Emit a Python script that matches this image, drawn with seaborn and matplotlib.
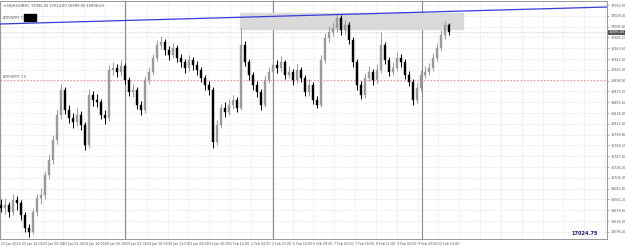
import matplotlib
matplotlib.use("Agg")
import matplotlib.pyplot as plt
import matplotlib.transforms as mtransforms
import numpy as np
import pandas as pd
import seaborn as sns

# ---------------- data ----------------
closes = [16644, 16650, 16636, 16660, 16654, 16630, 16604, 16596, 16636, 16664,
          16670, 16710, 16740, 16780, 16830, 16880, 16840, 16824, 16816, 16830,
          16810, 16770, 16870, 16860, 16856, 16830, 16824, 16920, 16924, 16916,
          16928, 16900, 16876, 16880, 16850, 16840, 16900, 16916, 16944, 16970,
          16976, 16960, 16950, 16964, 16944, 16936, 16924, 16940, 16930, 16920,
          16904, 16890, 16880, 16776, 16810, 16844, 16836, 16850, 16860, 16844,
          16970, 16936, 16910, 16890, 16876, 16850, 16900, 16916, 16930, 16924,
          16936, 16910, 16916, 16900, 16920, 16904, 16876, 16890, 16860, 16850,
          16940, 16984, 16996, 17004, 17024, 17000, 17010, 16980, 16936, 16890,
          16870, 16904, 16916, 16900, 16920, 16970, 16940, 16916, 16924, 16944,
          16936, 16910, 16896, 16860, 16884, 16910, 16916, 16924, 16944, 16964,
          16990, 17010, 16996]
highs = [16662, 16664, 16656, 16672, 16668, 16660, 16636, 16612, 16644, 16672,
         16684, 16718, 16752, 16790, 16842, 16892, 16886, 16850, 16834, 16844,
         16838, 16816, 16882, 16878, 16872, 16862, 16840, 16930, 16936, 16932,
         16940, 16934, 16906, 16892, 16886, 16858, 16908, 16926, 16952, 16980,
         16988, 16982, 16968, 16974, 16970, 16952, 16942, 16950, 16946, 16938,
         16926, 16910, 16898, 16886, 16820, 16852, 16856, 16862, 16870, 16866,
         17004, 16978, 16942, 16916, 16898, 16882, 16910, 16926, 16942, 16940,
         16948, 16940, 16928, 16922, 16932, 16926, 16910, 16902, 16896, 16868,
         16950, 16994, 17008, 17016, 17034, 17030, 17020, 17016, 16986, 16942,
         16898, 16914, 16928, 16922, 16932, 16996, 16976, 16946, 16936, 16956,
         16952, 16942, 16918, 16902, 16894, 16920, 16928, 16934, 16954, 16974,
         17000, 17018, 17014]
lows = [16636, 16632, 16626, 16630, 16640, 16620, 16596, 16586, 16592, 16628,
        16652, 16662, 16702, 16732, 16772, 16822, 16832, 16814, 16804, 16808,
        16800, 16760, 16764, 16848, 16846, 16822, 16812, 16818, 16910, 16906,
        16908, 16892, 16868, 16866, 16842, 16830, 16834, 16892, 16910, 16938,
        16962, 16950, 16940, 16944, 16936, 16926, 16914, 16918, 16920, 16910,
        16896, 16880, 16870, 16764, 16770, 16804, 16826, 16830, 16842, 16836,
        16840, 16928, 16900, 16880, 16866, 16840, 16846, 16894, 16910, 16914,
        16918, 16902, 16904, 16890, 16894, 16896, 16868, 16868, 16852, 16844,
        16846, 16934, 16976, 16988, 16996, 16990, 16992, 16972, 16926, 16880,
        16862, 16864, 16898, 16890, 16894, 16914, 16932, 16908, 16910, 16918,
        16926, 16902, 16888, 16850, 16854, 16878, 16904, 16910, 16918, 16938,
        16958, 16982, 16990]
first_open = 16650

x_labels = ["22 Jan 2024", "22 Jan 14:00", "23 Jan 06:00", "23 Jan 22:00",
            "24 Jan 14:00", "26 Jan 06:00", "29 Jan 02:00", "29 Jan 18:00",
            "30 Jan 11:00", "31 Jan 04:00", "31 Jan 20:00", "1 Feb 12:00",
            "2 Feb 04:00", "2 Feb 21:00", "5 Feb 16:00", "6 Feb 09:00",
            "7 Feb 02:00", "7 Feb 18:00", "8 Feb 11:00", "9 Feb 04:00",
            "9 Feb 20:00", "12 Feb 14:00"]
y_ticks = [17050.0 - 21.6 * k for k in range(22)]

box_prices = [17002, 17034]          # grey zone
box_bars = [59.75, 115.5]
trend_bars = [-0.25, 151.5]          # trendline anchors
trend_prices = [17012, 17046]
support_price = 16900
week_breaks = [31.0, 68.0, 105.25]
current_price = 16996

header = "\u25be NQH24,M30  17005.25 17014.00 16990.00 16996.00"
left_tag = "ATR/SPRT 7.5"
corner_val = "17024.75"

# ---------------- build frame ----------------
opens = [first_open] + closes[:-1]
df = pd.DataFrame({"bar": np.arange(len(closes)), "open": opens,
                   "high": highs, "low": lows, "close": closes})
df["up"] = df["close"] >= df["open"]

sns.set_theme(style="white")
plt.rcParams["font.family"] = ["DejaVu Sans"]

W, H = 625, 249
fig = plt.figure(figsize=(W / 100, H / 100), dpi=100)
ax = fig.add_axes([0, 10 / H, 607 / W, 238 / H])
ax.set_xlim(-0.25, 151.5)
ax.set_ylim(16582, 17058)

# grid
step = 5.2083
for k in range(30):
    ax.axvline(k * step, color="#d4d4d4", lw=0.5, ls=(0, (1, 1.5)), zorder=0)
for p in y_ticks:
    ax.axhline(p, color="#d4d4d4", lw=0.5, ls=(0, (1, 1.5)), zorder=0)
for wb in week_breaks:
    ax.axvline(wb, color="#8a8a8a", lw=0.8, zorder=0.5)

# grey zone
ax.fill_between(box_bars, box_prices[0], box_prices[1], color="#d9d9d9", zorder=1)

# support line
ax.axhline(support_price, color="#f08080", lw=0.6, ls=(0, (2, 2)), zorder=1)
ax.axhline(current_price, color="#c0c0c0", lw=0.5, ls=(0, (2, 2)), zorder=1)

# candles
up_col, dn_col = "#9a9a9a", "#000000"
cols = np.where(df["up"], up_col, dn_col)
ax.vlines(df["bar"], df["low"], df["high"], colors=cols, lw=0.7, zorder=3)
body_lo = np.minimum(df["open"], df["close"])
body_h = np.maximum(np.abs(df["close"] - df["open"]), 1.0)
ax.bar(df["bar"], body_h, bottom=body_lo, width=0.65, color=cols,
       edgecolor=cols, linewidth=0.3, zorder=4)

# trendline
sns.lineplot(x=trend_bars, y=trend_prices, ax=ax, color="#3a3ad8", lw=0.9,
             zorder=5, legend=False)

# axes styling
ax.yaxis.tick_right()
ax.set_yticks(y_ticks)
ax.set_yticklabels([f"{p:.2f}" for p in y_ticks], fontsize=2.4, color="#555555")
ax.set_xticks([k * step for k in range(len(x_labels))])
ax.set_xticklabels(x_labels, fontsize=2.3, color="#555555", ha="left")
ax.tick_params(axis="both", length=1.5, width=0.4, pad=0.8, colors="#777777",
               labelcolor="#555555")
for s in ax.spines.values():
    s.set_color("#888888")
    s.set_linewidth(0.6)
ax.set_xlabel("")
ax.set_ylabel("")

# texts
blend = mtransforms.blended_transform_factory(ax.transAxes, ax.transData)
ax.text(0.006, 0.988, header, transform=ax.transAxes, fontsize=2.6,
        color="#555555", va="top", ha="left")
ax.text(0.005, 17025, left_tag, transform=blend, fontsize=2.5,
        color="#555555", va="center")
ax.fill_between([5.75, 8.75], 17018, 17032, color="#000000", zorder=6)
ax.text(0.005, 16903, left_tag, transform=blend, fontsize=2.5,
        color="#555555", va="bottom")
ax.text(1.002, current_price, f"{current_price:.2f}", transform=blend,
        fontsize=2.4, color="white", va="center", ha="left",
        bbox=dict(boxstyle="square,pad=0.15", fc="#555555", ec="none"))
ax.text(0.985, 0.012, corner_val, transform=ax.transAxes, fontsize=3.6,
        color="#1a1a6e", fontweight="bold", ha="right", va="bottom")

fig.savefig("out.png", dpi=100, facecolor="white")
